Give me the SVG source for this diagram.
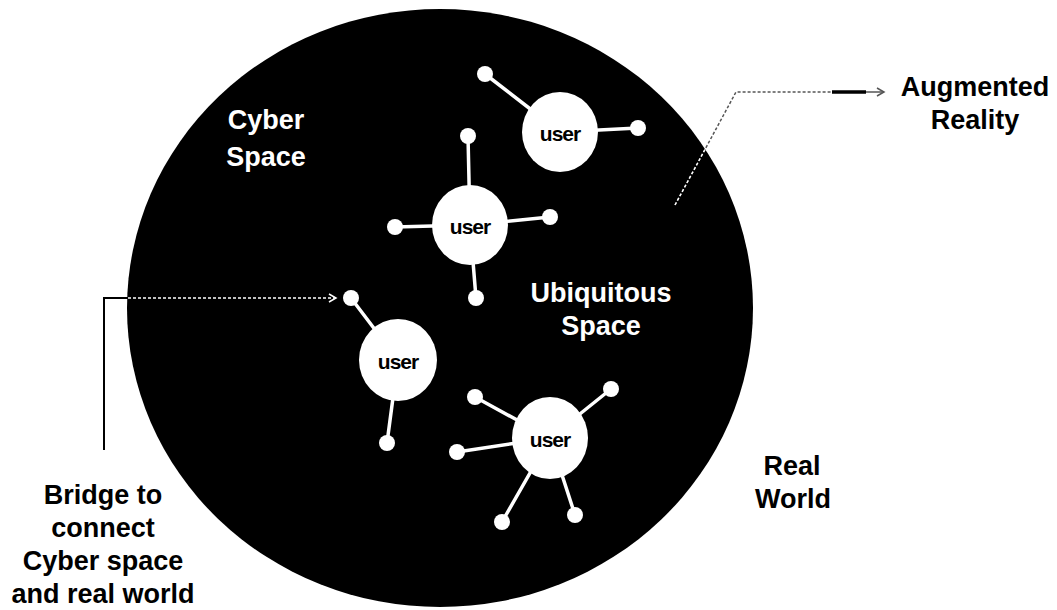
<svg xmlns="http://www.w3.org/2000/svg" width="1057" height="610" viewBox="0 0 1057 610">
<style>
.lbl{font-family:"Liberation Sans",Arial,sans-serif;font-weight:bold;font-size:27px;text-anchor:middle}
.wl{fill:#fff}
.bl{fill:#000}
.ut{font-family:"Liberation Sans",Arial,sans-serif;font-weight:bold;font-size:21px;text-anchor:middle;fill:#000;letter-spacing:-1px}
.hub{fill:#fff}
.sat{fill:#fff}
.spoke{stroke:#fff;stroke-width:3.5;fill:none}
.conn-out{fill:none;stroke:#555;stroke-width:1.5;stroke-dasharray:3 2}
.conn-in{fill:none;stroke:#fff;stroke-width:1.5;stroke-dasharray:3 2}
</style>
<defs>
<clipPath id="inside"><ellipse cx="440" cy="308" rx="313" ry="299"/></clipPath>
<marker id="ahB" markerWidth="10" markerHeight="10" refX="8" refY="5" orient="auto" markerUnits="userSpaceOnUse">
<path d="M1,1 L8,5 L1,9" fill="none" stroke="#555" stroke-width="1.5"/>
</marker>
<marker id="ahW" markerWidth="10" markerHeight="10" refX="8" refY="5" orient="auto" markerUnits="userSpaceOnUse">
<path d="M1,1 L8,5 L1,9" fill="none" stroke="#fff" stroke-width="1.5"/>
</marker>
</defs>
<rect width="1057" height="610" fill="#fff"/>
<g id="space">
<ellipse cx="440" cy="308" rx="313" ry="299" fill="#000"/>
</g>
<g id="label-cyber">
<text class="lbl wl" x="266" y="129">Cyber</text>
<text class="lbl wl" x="266" y="166">Space</text>
</g>
<g id="label-ubiquitous">
<text class="lbl wl" x="601" y="302">Ubiquitous</text>
<text class="lbl wl" x="601" y="335">Space</text>
</g>
<g id="label-real">
<text class="lbl bl" x="792" y="475">Real</text>
<text class="lbl bl" x="793" y="508">World</text>
</g>
<g id="label-ar">
<text class="lbl bl" x="975" y="96">Augmented</text>
<text class="lbl bl" x="975" y="129">Reality</text>
</g>
<g id="label-bridge">
<text class="lbl bl" x="103" y="504">Bridge to</text>
<text class="lbl bl" x="103" y="537">connect</text>
<text class="lbl bl" x="103" y="570">Cyber space</text>
<text class="lbl bl" x="103" y="603">and real world</text>
</g>
<g id="connectors">
<path class="conn-out" d="M675,205 L736,92 L832,92"/>
<path d="M832,92 L866,92" stroke="#000" stroke-width="3.5" fill="none"/>
<path d="M866,92 L884,92" stroke="#555" stroke-width="1.5" fill="none" marker-end="url(#ahB)"/>
<path class="conn-in" clip-path="url(#inside)" d="M675,205 L736,92"/>
<path d="M104,450 L104,298 L128,298" stroke="#000" stroke-width="2" fill="none"/>
<path class="conn-in" d="M128,298 L336,298" marker-end="url(#ahW)"/>
</g>
<g id="user1">
<path class="spoke" d="M560,132 L485,74 M560,132 L638,128"/>
<circle class="sat" cx="485" cy="74" r="8"/>
<circle class="sat" cx="638" cy="128" r="8"/>
<ellipse class="hub" cx="560" cy="132" rx="38" ry="40"/>
<text class="ut" x="560" y="141">user</text>
</g>
<g id="user2">
<path class="spoke" d="M470,225 L468,136 M470,225 L395,227 M470,225 L550,217 M470,225 L476,298"/>
<circle class="sat" cx="468" cy="136" r="8"/>
<circle class="sat" cx="395" cy="227" r="8"/>
<circle class="sat" cx="550" cy="217" r="8"/>
<circle class="sat" cx="476" cy="298" r="8"/>
<ellipse class="hub" cx="470" cy="225" rx="38" ry="40"/>
<text class="ut" x="470" y="234">user</text>
</g>
<g id="user3">
<path class="spoke" d="M398,360 L351,298 M398,360 L387,443"/>
<circle class="sat" cx="351" cy="298" r="8"/>
<circle class="sat" cx="387" cy="443" r="8"/>
<ellipse class="hub" cx="398" cy="360" rx="39" ry="41"/>
<text class="ut" x="398" y="369">user</text>
</g>
<g id="user4">
<path class="spoke" d="M550,438 L475,397 M550,438 L611,389 M550,438 L457,452 M550,438 L575,515 M550,438 L502,522"/>
<circle class="sat" cx="475" cy="397" r="8"/>
<circle class="sat" cx="611" cy="389" r="8"/>
<circle class="sat" cx="457" cy="452" r="8"/>
<circle class="sat" cx="575" cy="515" r="8"/>
<circle class="sat" cx="502" cy="522" r="8"/>
<ellipse class="hub" cx="550" cy="438" rx="38" ry="41"/>
<text class="ut" x="550" y="447">user</text>
</g>
</svg>
